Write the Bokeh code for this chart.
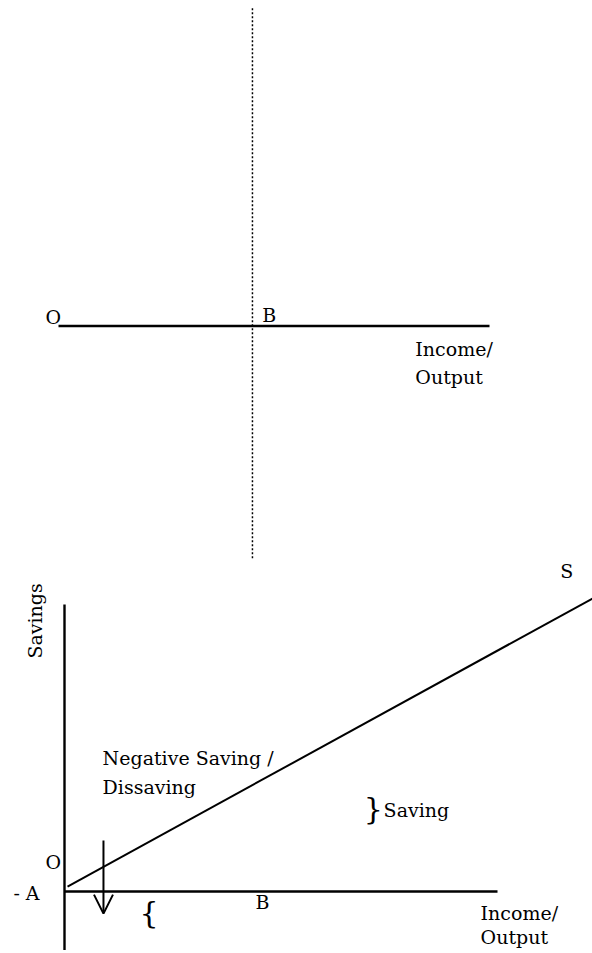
from bokeh.plotting import figure
from bokeh.layouts import column
from bokeh.models import Range1d, Label, Arrow, OpenHead
from bokeh.embed import file_html
from bokeh.resources import INLINE

# ---------------- data (diagram units: income / savings) ----------------
# top panel
top_axis_income = [0, 100]
top_axis_level = [0, 0]
break_even_income = [45, 45]
break_even_span = [73.7, -53.9]

# bottom panel
income_axis_income = [0, 100]
income_axis_saving = [0, 0]
saving_axis_income = [0, 0]
saving_axis_saving = [66.3, -13.5]
s_line_income = [0.7, 122.0]
s_line_saving = [1.15, 67.7]
arrow_income = 9.0
arrow_from = 11.8
arrow_to = -5.1

# labels: (text, income, level)
top_labels = [("O", -3.0, 2.16), ("B", 47.3, 2.66), ("Income/", 82.8, -5.44), ("Output", 82.8, -11.74)]
bottom_labels = [("S", 114.5, 73.95), ("Negative Saving /", 8.8, 30.75), ("Dissaving", 8.8, 24.05),
                 ("Saving", 73.7, 18.75), ("O", -4.4, 6.7), ("- A", -11.8, -0.25), ("B", 44.1, -2.35),
                 ("Income/", 96.1, -4.85), ("Output", 96.1, -10.6)]
braces = [("}", 69.1, 19.2), ("{", 17.3, -4.85)]
y_axis_title = ("Savings", -6.9, 53.8)

FONT = "DejaVu Serif"
FS = "19px"
W = 592


def base_fig(h, x0px, y0px, k):
    xr = Range1d(-x0px / k, (W - x0px) / k)
    yr = Range1d(-(h - y0px) / k, y0px / k)
    p = figure(width=W, height=h, x_range=xr, y_range=yr, output_backend="svg",
               toolbar_location=None, x_axis_location=None, y_axis_location=None,
               min_border=0, min_border_left=0, min_border_right=0,
               min_border_top=0, min_border_bottom=0)
    p.grid.visible = False
    p.outline_line_color = None
    p.background_fill_color = "white"
    p.border_fill_color = "white"
    return p


# ---------------- top panel ----------------
top = base_fig(559, 58, 325.5, 4.31)
top.line(top_axis_income, top_axis_level, line_color="black", line_width=2.6)
top.line(break_even_income, break_even_span, line_color="black", line_width=1.5, line_dash="2 2")
for t, x, y in top_labels:
    top.add_layout(Label(x=x, y=y, text=t, text_font=FONT, text_font_size=FS,
                         text_color="black", text_baseline="alphabetic", text_align="left"))

# ---------------- bottom panel ----------------
bot = base_fig(394, 64, 332, 4.33)
bot.line(saving_axis_income, saving_axis_saving, line_color="black", line_width=2.4)
bot.line(income_axis_income, income_axis_saving, line_color="black", line_width=2.6)
bot.line(s_line_income, s_line_saving, line_color="black", line_width=2)
bot.add_layout(Arrow(x_start=arrow_income, y_start=arrow_from, x_end=arrow_income, y_end=arrow_to,
                     line_color="black", line_width=2,
                     end=OpenHead(size=19, line_color="black", line_width=2)))
for t, x, y in bottom_labels:
    bot.add_layout(Label(x=x, y=y, text=t, text_font=FONT, text_font_size=FS,
                         text_color="black", text_baseline="alphabetic", text_align="left"))
for t, x, y in braces:
    bot.add_layout(Label(x=x, y=y, text=t, text_font=FONT, text_font_size="30px",
                         text_color="black", text_baseline="middle", text_align="left"))
t, x, y = y_axis_title
bot.add_layout(Label(x=x, y=y, text=t, angle=1.5708, text_font=FONT,
                     text_font_size=FS, text_color="black", text_baseline="alphabetic",
                     text_align="left"))

layout = column(top, bot, spacing=0)
open("out.html", "w").write(file_html(layout, INLINE))
